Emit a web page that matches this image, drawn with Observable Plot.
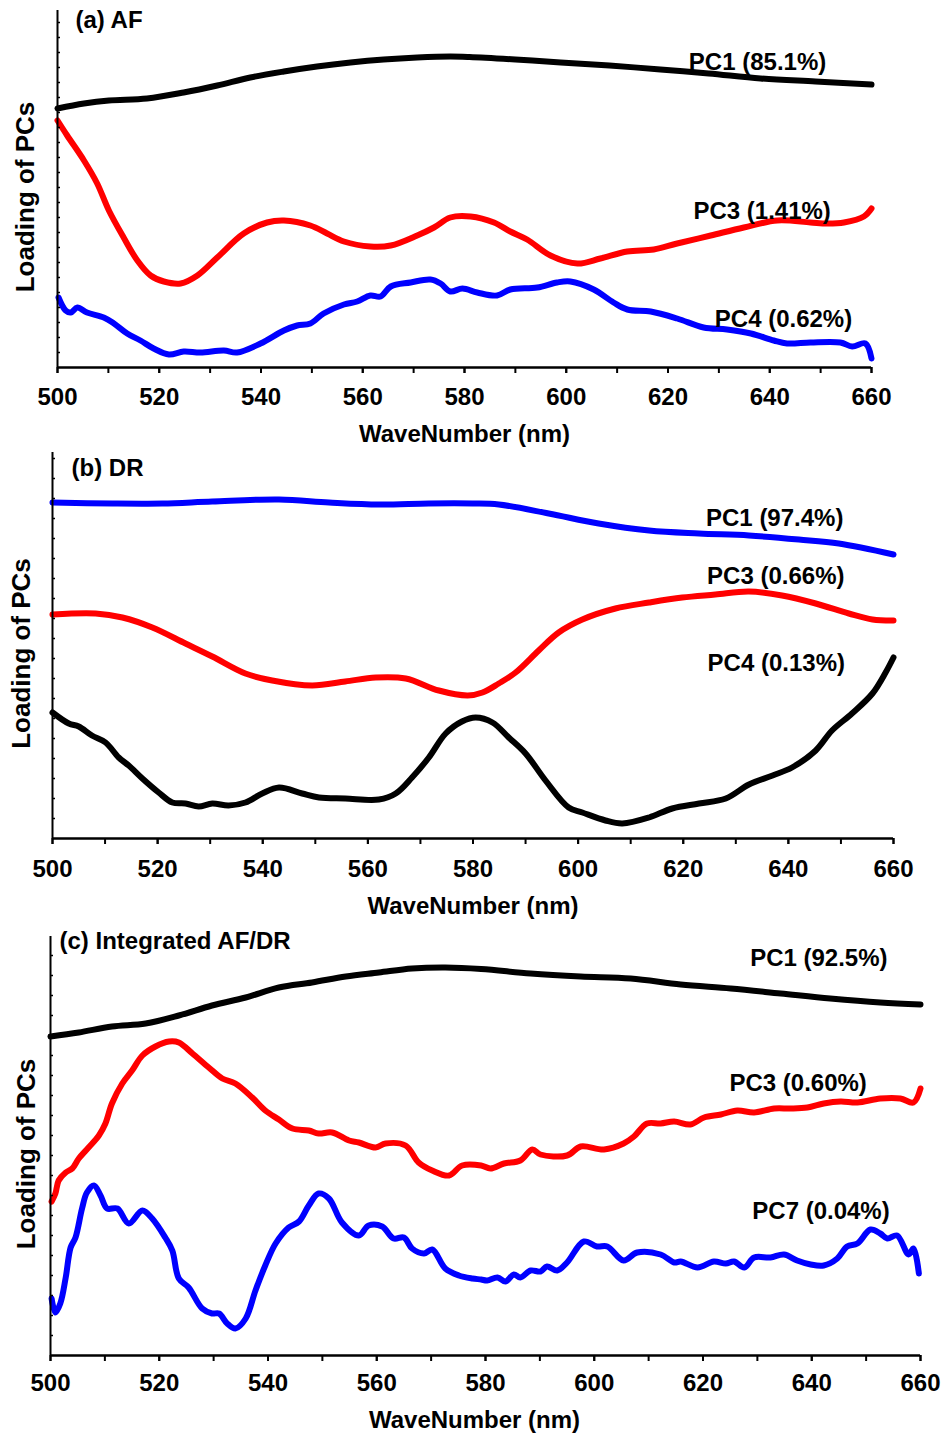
<!DOCTYPE html>
<html>
<head>
<meta charset="utf-8">
<script src="https://cdn.jsdelivr.net/npm/d3@7"></script>
<script src="https://cdn.jsdelivr.net/npm/@observablehq/plot@0.6"></script>
<style>
  html, body { margin: 0; padding: 0; background: #fff; }
  #chart svg { display: block; }
</style>
</head>
<body>
<div id="chart"></div>
<script>
// ---- Panel (a) AF : loadings in arbitrary units vs wavelength (nm) ----
const afPC1 = [[500,259],[505.2,264],[510.1,267],[517.6,269],[524.8,275],[531.4,282],[537.9,290],[544.5,296],[551,301],[557.6,305],[564.1,308],[570.7,310],[577.2,311],[581,310.5],[590,308],[598.9,305],[608.5,302],[618.5,298],[628,294],[638.2,289],[649,286],[660,283]];
const afPC3 = [[500,247],[501.9,232],[505.2,207],[507.8,184],[510.1,157],[513,130],[515.7,107],[518.3,92],[520.9,86],[524.2,84],[527.5,92],[531.4,110],[536.6,134],[541.2,145],[544.5,147],[549.7,142],[553,134],[556.3,126],[561.5,121],[565.5,122],[570.7,132],[574,140],[577.2,150],[581.2,151],[585.8,145],[589,136],[592.3,128],[596.9,112],[602.2,104],[606.7,109],[612,116],[617.2,118],[621.8,124],[628.4,132],[634.9,140],[641.5,147],[648,145],[651.3,144],[654.6,145],[658.5,151],[660,159]];
const afPC4 = [[500.2,70],[501.6,57],[502.6,55],[503.9,60],[505.8,55],[509.1,50],[511.1,44],[513.7,34],[516.3,27],[518.9,19],[521.9,13],[524.8,16],[528.1,15],[532.7,17],[535.3,15],[539.9,24],[544.5,37],[547.1,42],[549.7,44],[552.3,54],[556.3,63],[558.9,66],[561.5,72],[563.5,71],[565.5,81],[569.4,85],[573.3,88],[575.3,84],[577.2,76],[579.6,79],[582.5,75],[586.4,72],[589,78],[594.3,80],[598.2,85],[600.8,86],[605.4,78],[609.3,65],[612,58],[616.6,56],[621.8,49],[627,40],[631.6,38],[636.3,34],[640.8,27],[643.4,24],[648,25],[653.9,25],[656.2,21],[658.8,24],[660,9]];
const afLabels = [
  {text: "PC1 (85.1%)", nm: 637.6, v: 305},
  {text: "PC3 (1.41%)", nm: 638.5, v: 156},
  {text: "PC4 (0.62%)", nm: 642.7, v: 48}
];

// ---- Panel (b) DR ----
const drPC1 = [[500,336],[511.4,335],[520.9,335],[530.4,337],[543.1,339],[552.6,336],[562.1,334],[571.6,335],[579.9,335],[584.9,334],[594.4,325],[603.9,315],[613.5,308],[623,305],[632.5,303],[642,299],[649.6,295],[660,284]];
const drPC3 = [[500,224],[508.2,225],[513.3,221],[519,211],[525.3,195],[530.4,182],[536.7,165],[541.8,158],[549.4,153],[555.7,157],[561.5,161],[567.2,160],[573.5,148],[579,143],[581.8,146],[584.9,155],[588.1,166],[592.5,188],[596.3,206],[600.8,219],[607.1,230],[613.5,236],[619.8,241],[626.1,244],[632.5,247],[638.8,243],[645.2,235],[651.5,225],[656,219],[660,218]];
const drPC4 = [[500,126],[503.1,115],[505,112],[507.5,103],[510.1,96],[512.6,81],[514.5,73],[517.1,60],[520.2,46],[522.8,36],[525.3,35],[527.8,32],[530.4,35],[533.5,33],[536.7,36],[539.9,45],[543.1,51],[547.5,45],[550.7,41],[555.7,40],[562.1,39],[565.3,45],[568.4,61],[571.6,81],[574.8,105],[577.9,117],[580.5,121],[583.7,116],[586.8,101],[590,85],[593.8,58],[598.2,31],[600.8,26],[605.2,18],[608.4,15],[613.5,21],[617.9,30],[623,35],[628.1,40],[632.5,54],[637,63],[640.7,71],[645.2,88],[648.3,108],[652.1,125],[656,145],[658.5,166],[660,181]];
const drLabels = [
  {text: "PC1 (97.4%)", nm: 637.4, v: 320},
  {text: "PC3 (0.66%)", nm: 637.6, v: 262},
  {text: "PC4 (0.13%)", nm: 637.7, v: 175}
];

// ---- Panel (c) Integrated AF/DR ----
const intPC1 = [[500,319],[505.2,323],[511.3,329],[517.5,332],[523.6,340],[529.7,350],[535.9,358],[542,368],[548.1,373],[554.3,379],[560.4,383],[566.5,387],[572.6,388],[579.2,386.5],[588.3,382],[597.5,379],[606.7,377],[615.9,371],[625.1,367],[634.3,362],[643.4,357],[652.6,353],[660,351]];
const intPC3 = [[500.2,154],[500.9,162],[501.5,175],[502.8,183],[504,187],[505.2,197],[507,208],[508.9,220],[510.1,232],[511.3,252],[513.2,272],[515,285],[516.9,300],[519.3,309],[521.8,314],[523.6,313],[526.1,302],[529.1,288],[531.6,277],[534,272],[537.1,258],[539.5,245],[542,236],[544.5,227],[547.5,225],[549.3,222],[551.8,223],[554.9,215],[556.7,213],[559.8,208],[561.6,212],[565.3,210],[567.7,193],[570.2,185],[573.3,180],[575.7,190],[579.2,190],[580.9,187],[583.4,192],[586.4,195],[588.6,206],[590.1,201],[595,200],[597.5,209],[601.8,206],[605.4,212],[607.3,219],[609.7,232],[612.2,232],[614.7,234],[617.7,231],[620.2,238],[623.3,241],[626.3,245],[629.4,243],[633.1,247],[636.1,247],[639.2,248],[642.2,252],[645.3,254],[648.4,253],[652.6,257],[656.3,257],[658.7,253],[660,267]];
const intPC7 = [[500.2,57],[500.9,43],[501.8,52],[502.8,78],[503.7,108],[504.6,118],[505.8,147],[506.7,163],[508,170],[509.2,160],[510.4,147],[512.3,147],[514.4,132],[516.9,145],[518.7,137],[521.1,118],[522.4,105],[523.6,77],[525.4,68],[527.9,47],[529.7,42],[531,42],[532.5,32],[534,27],[535.9,37],[537.7,65],[539.5,90],[541.4,112],[543.8,128],[545.7,134],[547.5,150],[549.3,162],[551.2,157],[553.6,133],[556.7,120],[558.5,130],[561,129],[563.1,117],[565,118],[566.5,107],[568.7,102],[570.2,106],[572.6,87],[575.1,80],[577.6,77],[579.2,76],[580.3,75],[582.2,78],[583.7,74],[585.2,81],[586.4,78],[588.3,85],[590.1,84],[591.3,89],[593.2,85],[595,93],[598.1,114],[600.5,109],[602.4,109],[605.4,95],[607.9,103],[612.2,101],[614.7,93],[615.9,94],[619,88],[622,94],[624.2,92],[625.7,94],[627.6,88],[629.4,98],[632.4,98],[634.9,101],[637.3,95],[639.8,91],[642.2,90],[644.7,97],[646.5,109],[648.4,112],[650.8,126],[652.6,122],[653.9,117],[655.7,120],[657.8,101],[658.7,107],[659.7,82]];
const intLabels = [
  {text: "PC1 (92.5%)", nm: 641.3, v: 397},
  {text: "PC3 (0.60%)", nm: 637.5, v: 272},
  {text: "PC7 (0.04%)", nm: 641.7, v: 144}
];

const xTicksMinor = d3.range(500, 661, 10);
const xTicksMajor = d3.range(500, 661, 20);
const FONT = "'Liberation Sans', Arial, Helvetica, sans-serif";

function panel(cfg) {
  const yTicks = d3.range(cfg.yStep, cfg.yMax, cfg.yStep);
  const series = [
    {data: cfg.s1, color: cfg.c1},
    {data: cfg.s2, color: cfg.c2},
    {data: cfg.s3, color: cfg.c3}
  ];
  return Plot.plot({
    width: 945,
    height: cfg.height,
    marginTop: cfg.mt, marginBottom: cfg.mb, marginLeft: cfg.ml, marginRight: cfg.mr,
    style: {fontFamily: FONT, fontSize: "24px", fontWeight: "bold", color: "#000", background: "#fff"},
    x: {domain: [500, 660]},
    y: {domain: [0, cfg.yMax]},
    marks: [
      ...series.map(s => Plot.line(s.data, {x: d => d[0], y: d => d[1], stroke: s.color, strokeWidth: 6, curve: "catmull-rom", strokeLinejoin: "round", strokeLinecap: "round"})),
      Plot.axisY(yTicks, {tickSize: 3, dx: 3, tickFormat: () => "", strokeWidth: 1.5, label: null}),
      Plot.axisX(xTicksMinor, {tickSize: 6, tickFormat: () => "", strokeWidth: 2, label: null}),
      Plot.axisX(xTicksMajor, {tickSize: 6, tickPadding: cfg.tp, strokeWidth: 2, label: null, fontSize: 24, fontWeight: "bold"}),
      Plot.ruleX([500], {strokeWidth: 2}),
      Plot.ruleY([0], {strokeWidth: 2.5}),
      Plot.text(cfg.labels, {x: "nm", y: "v", text: "text", fontSize: 24, fontWeight: "bold", textAnchor: "middle", lineAnchor: "middle"}),
      Plot.text([cfg.title], {frameAnchor: "top-left", dx: cfg.tdx, dy: cfg.tdy, textAnchor: "start", lineAnchor: "middle", fontSize: 24, fontWeight: "bold"}),
      Plot.text(["WaveNumber (nm)"], {frameAnchor: "bottom", dx: cfg.xldx, dy: cfg.xldy, lineAnchor: "middle", fontSize: 24, fontWeight: "bold"}),
      Plot.text(["Loading of PCs"], {frameAnchor: "left", dx: cfg.yldx, dy: cfg.yldy, rotate: -90, lineAnchor: "middle", textAnchor: "middle", fontSize: 26, fontWeight: "bold"})
    ]
  });
}

const chart = document.getElementById("chart");
chart.appendChild(panel({
  height: 450, mt: 10, mb: 83, ml: 57, mr: 74, yMax: 357, yStep: 15, tp: 14,
  s1: afPC1, c1: "#000000", s2: afPC3, c2: "#ff0000", s3: afPC4, c3: "#0000ff",
  labels: afLabels, title: "(a) AF", tdx: 18, tdy: 10, xldx: 0, xldy: 67, yldx: -32, yldy: 8
}));
chart.appendChild(panel({
  height: 470, mt: 2, mb: 82, ml: 52, mr: 52, yMax: 386, yStep: 20, tp: 15,
  s1: drPC1, c1: "#0000ff", s2: drPC3, c2: "#ff0000", s3: drPC4, c3: "#000000",
  labels: drLabels, title: "(b) DR", tdx: 19, tdy: 16, xldx: 0, xldy: 68, yldx: -31, yldy: 8
}));
chart.appendChild(panel({
  height: 516, mt: 16, mb: 81, ml: 50, mr: 25, yMax: 419, yStep: 20, tp: 12,
  s1: intPC1, c1: "#000000", s2: intPC3, c2: "#ff0000", s3: intPC7, c3: "#0000ff",
  labels: intLabels, title: "(c) Integrated AF/DR", tdx: 9, tdy: 5, xldx: -11, xldy: 65, yldx: -24, yldy: 8
}));
</script>
</body>
</html>
